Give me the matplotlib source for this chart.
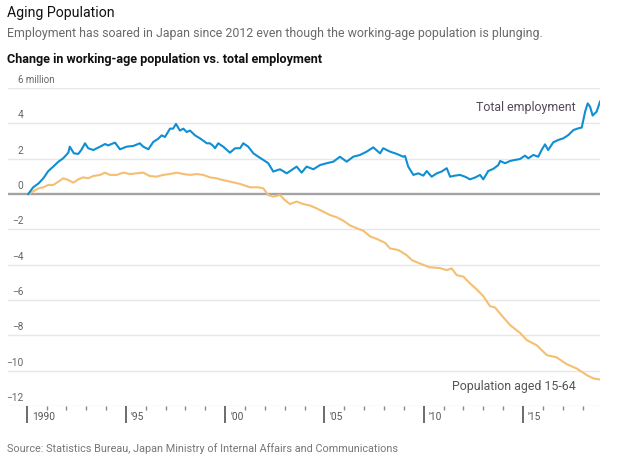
import matplotlib
matplotlib.use("Agg")
import matplotlib.pyplot as plt
import matplotlib.transforms as mtransforms

plt.rcParams['font.family'] = ['Roboto', 'DejaVu Sans']

# ---- data (change vs. Jan 1990, millions) ----
emp_t = [1990.08, 1990.33, 1990.60, 1990.84, 1991.09, 1991.34, 1991.60, 1991.84, 1992.10, 1992.17,
         1992.38, 1992.60, 1992.75, 1992.94, 1993.10, 1993.36, 1993.70, 1993.95, 1994.10, 1994.45,
         1994.70, 1995.04, 1995.37, 1995.70, 1995.87, 1996.13, 1996.38, 1996.63, 1996.80, 1996.97,
         1997.05, 1997.22, 1997.38, 1997.52, 1997.72, 1997.89, 1998.06, 1998.23, 1998.48, 1998.73,
         1998.98, 1999.07, 1999.23, 1999.40, 1999.49, 1999.65, 1999.90, 2000.24, 2000.50, 2000.75,
         2000.91, 2001.16, 2001.42, 2001.67, 2001.92, 2002.17, 2002.42, 2002.76, 2003.10, 2003.35,
         2003.60, 2003.85, 2004.10, 2004.44, 2004.78, 2005.11, 2005.45, 2005.78, 2006.12, 2006.45,
         2006.79, 2007.13, 2007.46, 2007.80, 2007.96, 2008.30, 2008.64, 2008.97, 2009.06, 2009.22,
         2009.48, 2009.73, 2009.98, 2010.15, 2010.40, 2010.66, 2010.90, 2011.16, 2011.33, 2011.58,
         2011.83, 2012.08, 2012.33, 2012.58, 2012.84, 2013.00, 2013.25, 2013.50, 2013.76, 2013.85,
         2014.10, 2014.35, 2014.60, 2014.85, 2015.10, 2015.27, 2015.52, 2015.77, 2015.94, 2016.11,
         2016.27, 2016.53, 2016.78, 2017.03, 2017.29, 2017.54, 2017.79, 2017.96, 2018.13, 2018.26,
         2018.38, 2018.51, 2018.71, 2018.88]
emp_v = [0.00, 0.38, 0.60, 0.89, 1.30, 1.55, 1.83, 2.02, 2.34, 2.68,
         2.30, 2.27, 2.49, 2.87, 2.59, 2.49, 2.68, 2.83, 2.75, 2.91,
         2.53, 2.68, 2.72, 2.87, 2.68, 2.53, 2.95, 3.13, 3.32, 3.23,
         3.38, 3.70, 3.70, 3.97, 3.59, 3.70, 3.51, 3.59, 3.32, 3.15,
         2.95, 2.87, 2.87, 2.72, 2.59, 2.87, 2.68, 2.34, 2.59, 2.59,
         2.87, 2.68, 2.30, 2.11, 1.93, 1.74, 1.27, 1.40, 1.17, 1.36,
         1.55, 1.21, 1.55, 1.40, 1.64, 1.74, 1.83, 2.11, 1.83, 2.11,
         2.21, 2.40, 2.64, 2.30, 2.59, 2.40, 2.27, 2.11, 2.15, 1.55,
         1.08, 1.17, 1.04, 1.30, 0.98, 1.17, 1.27, 1.46, 0.98, 1.04,
         1.08, 0.98, 0.83, 0.93, 1.08, 0.83, 1.30, 1.42, 1.64, 1.87,
         1.74, 1.87, 1.93, 1.98, 2.17, 2.02, 2.21, 2.11, 2.49, 2.81,
         2.49, 2.93, 3.06, 3.15, 3.34, 3.62, 3.72, 3.76, 4.66, 5.13,
         4.94, 4.44, 4.66, 5.23]

pop_t = [1990.13, 1990.30, 1990.60, 1990.84, 1991.09, 1991.34, 1991.60, 1991.84, 1992.10, 1992.35,
         1992.60, 1992.85, 1993.10, 1993.36, 1993.70, 1993.94, 1994.20, 1994.53, 1994.87, 1995.20,
         1995.54, 1995.87, 1996.20, 1996.54, 1996.88, 1997.22, 1997.55, 1997.89, 1998.23, 1998.56,
         1998.90, 1999.23, 1999.56, 1999.74, 2000.24, 2000.75, 2001.25, 2001.67, 2001.92, 2002.17,
         2002.42, 2002.76, 2003.00, 2003.26, 2003.60, 2003.93, 2004.27, 2004.60, 2004.94, 2005.28,
         2005.62, 2005.95, 2006.29, 2006.63, 2006.96, 2007.30, 2007.63, 2008.05, 2008.30, 2008.72,
         2009.14, 2009.40, 2009.80, 2010.30, 2010.80, 2011.16, 2011.41, 2011.66, 2012.00, 2012.33,
         2012.67, 2013.00, 2013.34, 2013.59, 2013.84, 2014.35, 2014.85, 2015.19, 2015.69, 2016.20,
         2016.70, 2017.20, 2017.71, 2018.21, 2018.55, 2018.88]
pop_v = [0.00, 0.13, 0.32, 0.38, 0.51, 0.51, 0.70, 0.89, 0.79, 0.64,
         0.83, 0.94, 0.89, 1.02, 1.08, 1.21, 1.08, 1.08, 1.21, 1.13,
         1.17, 1.21, 1.02, 0.98, 1.08, 1.13, 1.21, 1.13, 1.08, 1.13,
         1.08, 0.94, 0.89, 0.83, 0.70, 0.57, 0.38, 0.38, 0.32, -0.06,
         -0.15, -0.06, -0.34, -0.57, -0.43, -0.57, -0.65, -0.81, -1.00, -1.19,
         -1.32, -1.51, -1.78, -1.94, -2.08, -2.40, -2.54, -2.76, -3.08, -3.17,
         -3.46, -3.74, -3.93, -4.15, -4.19, -4.31, -4.21, -4.59, -4.68, -5.06,
         -5.40, -5.78, -6.35, -6.42, -6.76, -7.42, -7.86, -8.27, -8.56, -9.12,
         -9.25, -9.63, -9.88, -10.25, -10.44, -10.50]

y_ticks = [6, 4, 2, 0, -2, -4, -6, -8, -10, -12]
y_labels = ["6 million", "4", "2", "0", "\u22122", "\u22124", "\u22126", "\u22128", "\u221210", "\u221212"]
x_major = [1990, 1995, 2000, 2005, 2010, 2015]
x_major_labels = ["1990", "'95", "'00", "'05", "'10", "'15"]
x_minor = [y for y in range(1991, 2019) if y % 5 != 0]

title = "Aging Population"
subtitle = "Employment has soared in Japan since 2012 even though the working-age population is plunging."
heading = "Change in working-age population vs. total employment"
source = "Source: Statistics Bureau, Japan Ministry of Internal Affairs and Communications"

BLUE = "#0f8fd2"
ORANGE = "#f5bf72"

W, H = 640, 461
fig = plt.figure(figsize=(W / 100, H / 100), dpi=100)
fig.patch.set_facecolor("white")

def fx(px):
    return px / W

def fy(py):
    return 1 - py / H

ax_left, ax_right, ax_top, ax_bottom = 8, 600, 88, 406
ax = fig.add_axes([fx(ax_left), fy(ax_bottom), fx(ax_right - ax_left), (ax_bottom - ax_top) / H])
ax.set_xlim(1989.06, 2018.88)
ax.set_ylim(-12, 6)
for s in ax.spines.values():
    s.set_visible(False)
ax.set_facecolor("none")

# gridlines
for yv in y_ticks:
    if yv == 0:
        ax.axhline(yv, color="#a3a3a3", lw=1.7, zorder=2)
    else:
        ax.axhline(yv, color="#e7e7e7", lw=1.0, zorder=1)

ax.plot(pop_t, pop_v, color=ORANGE, lw=1.5, zorder=3, solid_joinstyle="round")
ax.plot(emp_t, emp_v, color=BLUE, lw=1.5, zorder=4, solid_joinstyle="round")

# y labels above gridlines
ytr = mtransforms.blended_transform_factory(fig.transFigure, ax.transData)
off = mtransforms.ScaledTranslation(0, 3 / 100, fig.dpi_scale_trans)
for yv, lab in zip(y_ticks, y_labels):
    if lab.endswith("million"):
        ax.text(fx(18), yv, lab, transform=ytr + off, ha="left", va="bottom",
                fontsize=7, color="#666666")
    else:
        ax.text(fx(23.5), yv, lab, transform=ytr + off, ha="right", va="bottom",
                fontsize=7.3, color="#666666")
ax.set_yticks([])

# x ticks
ax.set_xticks(x_major)
ax.set_xticklabels(x_major_labels)
ax.set_xticks(x_minor, minor=True)
ax.tick_params(axis="x", which="major", length=12, width=1.1, color="#444444",
               labelsize=7.3, labelcolor="#555555", pad=-7.5)
ax.tick_params(axis="x", which="minor", length=3, width=1.0, color="#888888")
shift = mtransforms.ScaledTranslation(5 / 100, 0, fig.dpi_scale_trans)
for lab in ax.get_xticklabels():
    lab.set_horizontalalignment("left")
    lab.set_transform(lab.get_transform() + shift)

# series labels
ax.text(2017.67, 4.9, "Total employment", ha="right", va="center", fontsize=8.9, color="#55485a")
ax.text(2017.67, -10.9, "Population aged 15-64", ha="right", va="center", fontsize=8.9, color="#555555")

# header texts
fig.text(fx(7), fy(17.5), title, ha="left", va="baseline", fontsize=10.2, color="#111111")
fig.text(fx(7), fy(36.5), subtitle, ha="left", va="baseline", fontsize=8.9, color="#6a6a6a")
fig.text(fx(7), fy(63), heading, ha="left", va="baseline", fontsize=9.1, color="#111111",
         fontweight="bold")
fig.text(fx(7), fy(452), source, ha="left", va="baseline", fontsize=7.85, color="#777777")

fig.savefig("out.png", dpi=100, facecolor="white")
